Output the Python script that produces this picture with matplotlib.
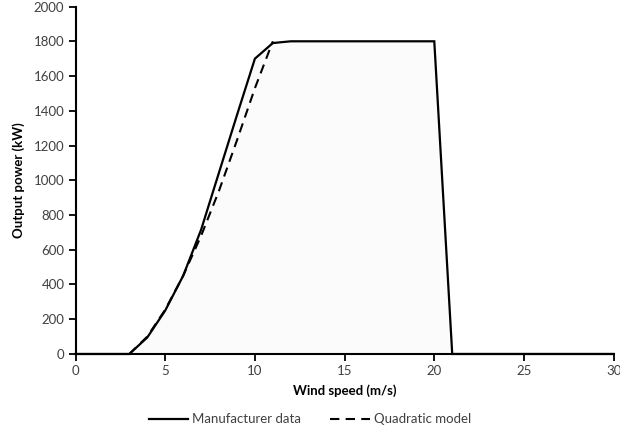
import matplotlib
matplotlib.use("Agg")
import matplotlib.pyplot as plt

# manufacturer power curve (kW) vs wind speed (m/s)
wind_mfr = [0, 1, 2, 3, 4, 5, 6, 7, 8, 9, 10, 11, 12, 13, 14, 15, 16, 17, 18, 19, 20,
            21, 22, 23, 24, 25, 26, 27, 28, 29, 30]
power_mfr = [0, 0, 0, 0, 95, 250, 450, 715, 1045, 1375, 1700, 1790, 1800, 1800, 1800,
             1800, 1800, 1800, 1800, 1800, 1800, 0, 0, 0, 0, 0, 0, 0, 0, 0, 0]

# quadratic model between cut-in and rated speed
wind_quad = [3, 4, 5, 6, 7, 8, 9, 10, 11]
power_quad = [0, 100, 255, 450, 680, 940, 1230, 1530, 1800]

x_ticks = [0, 5, 10, 15, 20, 25, 30]
y_ticks = [0, 200, 400, 600, 800, 1000, 1200, 1400, 1600, 1800, 2000]

plt.rcParams["font.family"] = ["Lato", "DejaVu Sans"]
TXT = "#404040"

fig = plt.figure(figsize=(6.2, 4.37), dpi=100)
ax = fig.add_axes([0.1218, 0.19, 0.868, 0.795])

ax.fill_between(wind_mfr, power_mfr, 0, color="#fbfbfb", lw=0, zorder=1)
ax.plot(wind_mfr, power_mfr, color="black", lw=1.6, solid_joinstyle="miter",
        label="Manufacturer data", zorder=3, clip_on=False)
ax.plot(wind_quad, power_quad, color="black", lw=1.5, dashes=(4.5, 3),
        label="Quadratic model", zorder=3)

ax.set_xlim(0, 30)
ax.set_ylim(0, 2000)
ax.set_xticks(x_ticks)
ax.set_yticks(y_ticks)
for side in ("top", "right"):
    ax.spines[side].set_visible(False)
for side in ("left", "bottom"):
    ax.spines[side].set_linewidth(1.5)
ax.tick_params(direction="out", length=5, width=1.3, labelsize=9.5,
               labelcolor=TXT, pad=3)

ax.set_xlabel("Wind speed (m/s)", fontsize=9.5, fontweight="bold", color="black",
              labelpad=5)
ax.set_ylabel("Output power (kW)", fontsize=9.5, fontweight="bold", color="black",
              labelpad=6)

leg = fig.legend(loc="lower center", bbox_to_anchor=(0.5, 0.0), ncol=2,
                 frameon=False, fontsize=9.5, handlelength=3.0,
                 handletextpad=0.3, columnspacing=2.2)
for t in leg.get_texts():
    t.set_color(TXT)

fig.savefig("out.png", dpi=100)
